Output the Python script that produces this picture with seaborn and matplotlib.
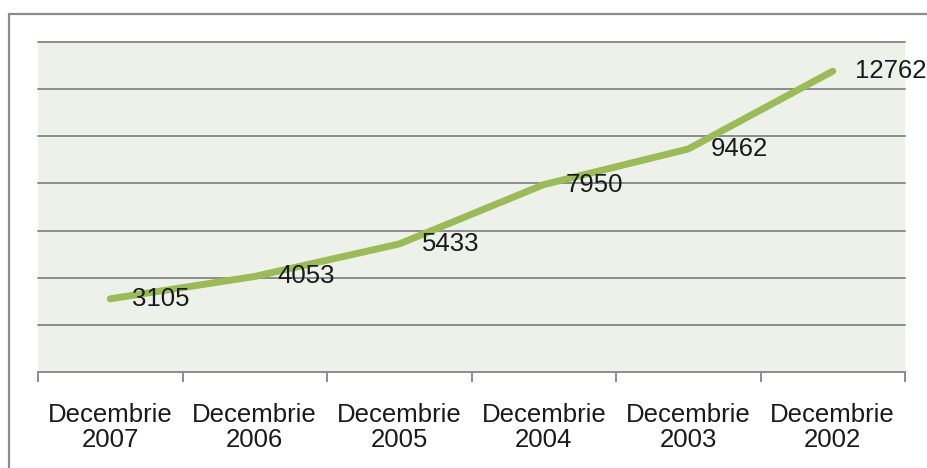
import matplotlib
matplotlib.use('Agg')
import matplotlib.pyplot as plt
import seaborn as sns
import pandas as pd
from matplotlib.patches import Rectangle

# date
categorii = ['Decembrie\n2007', 'Decembrie\n2006', 'Decembrie\n2005',
             'Decembrie\n2004', 'Decembrie\n2003', 'Decembrie\n2002']
valori = [3105, 4053, 5433, 7950, 9462, 12762]
grila_y = [0, 2000, 4000, 6000, 8000, 10000, 12000, 14000]

df = pd.DataFrame({'pozitie': range(len(categorii)), 'valoare': valori})

sns.set_style('white')
plt.rcParams['font.family'] = ['Liberation Sans', 'DejaVu Sans']

fig = plt.figure(figsize=(9.27, 4.68), dpi=100)
ax = fig.add_axes([38 / 927, 1 - 372 / 468, (905 - 38) / 927, (372 - 42) / 468])
ax.set_facecolor('#eef1e9')

# rama exterioara
fig.patches.append(Rectangle((9 / 927, -0.1), 1.2, 1 - 14 / 468 + 0.1,
                             transform=fig.transFigure, fill=False,
                             edgecolor='#8c8c8c', linewidth=1.6, zorder=0))

for g in grila_y[1:]:
    ax.axhline(g, color='#8c8c8c', linewidth=1.4, zorder=1, clip_on=False)

sns.lineplot(data=df, x='pozitie', y='valoare', ax=ax, color='#9bbb59',
             linewidth=5, solid_capstyle='round', zorder=3)

for i, v in enumerate(valori):
    ax.annotate(str(v), (i, v), xytext=(16, 0), textcoords='offset points',
                va='center', ha='left', fontsize=18.5, color='#1a1a1a', zorder=4)

ax.set_xlim(-0.5, len(categorii) - 0.5)
ax.set_ylim(grila_y[0], grila_y[-1])
ax.set_yticks([])
ax.set_xticks([i - 0.5 for i in range(len(categorii) + 1)])
ax.set_xticklabels([])
ax.set_xticks(range(len(categorii)), minor=True)
ax.set_xticklabels(categorii, minor=True, fontsize=18.5, color='#1a1a1a', linespacing=1.1)
ax.tick_params(axis='x', which='major', bottom=True, length=7, width=1.4,
               color='#8c8c8c', direction='out')
ax.tick_params(axis='x', which='minor', bottom=True, length=0, pad=22)
ax.set_xlabel('')
ax.set_ylabel('')

for s in ['top', 'right', 'left']:
    ax.spines[s].set_visible(False)
ax.spines['bottom'].set_color('#8c8c8c')
ax.spines['bottom'].set_linewidth(1.4)

fig.savefig('out.png', dpi=100)
